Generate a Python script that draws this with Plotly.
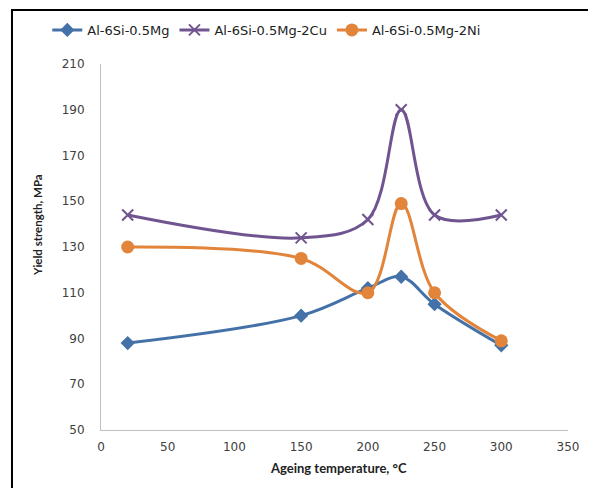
import plotly.graph_objects as go

temps = [20, 150, 200, 225, 250, 300]
mg = [88, 100, 112, 117, 105, 87]
cu = [144, 134, 142, 190, 144, 144]
ni = [130, 125, 110, 149, 110, 89]
names = ["Al-6Si-0.5Mg", "Al-6Si-0.5Mg-2Cu", "Al-6Si-0.5Mg-2Ni"]
x_ticks = [0, 50, 100, 150, 200, 250, 300, 350]
y_ticks = [50, 70, 90, 110, 130, 150, 170, 190, 210]

colors = ["#4472A8", "#70548F", "#E2843A"]
symbols = ["diamond", "x-thin", "circle"]
sizes = [11, 11, 13]

fig = go.Figure()
for ys, name, c, s, sz in zip([mg, cu, ni], names, colors, symbols, sizes):
    fig.add_trace(go.Scatter(
        x=temps, y=ys, name=name, mode="lines+markers",
        line=dict(color=c, width=3, shape="spline", smoothing=1.0),
        marker=dict(symbol=s, size=sz, color=c, line=dict(color=c, width=2 if s == "x-thin" else 0)),
    ))

fig.update_layout(
    width=588, height=480,
    margin=dict(l=93, r=28, t=56, b=58, autoexpand=False),
    paper_bgcolor="white", plot_bgcolor="white",
    font=dict(family="DejaVu Sans", size=12, color="#404040"),
    showlegend=True,
    legend=dict(orientation="h", x=-0.115, xanchor="left", y=1.093, yanchor="middle",
                font=dict(size=13, color="#222222"), itemwidth=30, tracegroupgap=0,
                bgcolor="rgba(0,0,0,0)"),
    xaxis=dict(range=[0, 350], tickvals=x_ticks, showgrid=False, zeroline=False,
               showline=True, linecolor="#BFBFBF", linewidth=1, ticks="", automargin=False,
               ticklabelstandoff=6, tickfont=dict(size=12, color="#404040")),
    yaxis=dict(range=[50, 210], tickvals=y_ticks, showgrid=False, zeroline=False,
               showline=True, linecolor="#BFBFBF", linewidth=1, ticks="", automargin=False,
               ticklabelstandoff=13, tickfont=dict(size=12, color="#404040")),
    annotations=[
        dict(text="<b>Ageing temperature, °C</b>", x=0.508, y=-0.105, xref="paper", yref="paper",
             showarrow=False, font=dict(family="Lato", size=13, color="#222222"),
             xanchor="center", yanchor="middle"),
        dict(text="<b>Yield strength, MPa</b>", x=-0.137, y=0.56, xref="paper", yref="paper",
             showarrow=False, textangle=-90, font=dict(family="Lato", size=11.5, color="#222222"),
             xanchor="center", yanchor="middle"),
    ],
    shapes=[
        dict(type="rect", xref="paper", yref="paper", x0=-0.1906, x1=1.045, y0=-0.2, y1=1.1475,
             line=dict(color="black", width=2), fillcolor="rgba(0,0,0,0)", layer="below"),
    ],
)

fig.write_html("out.html")
